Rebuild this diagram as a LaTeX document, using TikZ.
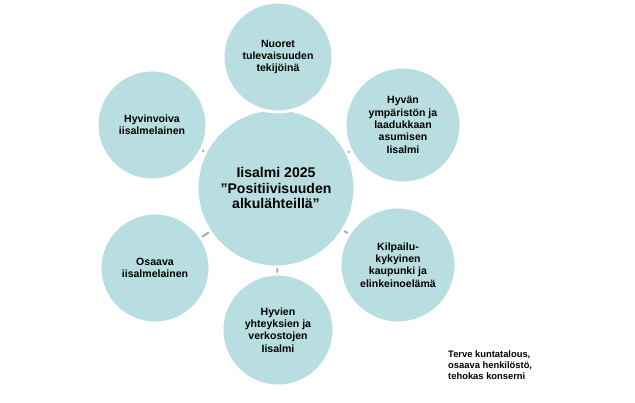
\documentclass[tikz,border=0pt]{standalone}
\usepackage{fontspec}
\setmainfont{Liberation Sans}
\definecolor{petal}{RGB}{185,222,225}
\definecolor{link}{RGB}{165,165,165}
\begin{document}
\begin{tikzpicture}[x=0.03cm, y=-0.03cm,
  petalnode/.style={circle, fill=petal, draw=white, line width=2.5pt, minimum size=110*0.03cm, inner sep=0pt, align=center, font=\bfseries\fontsize{9}{10.5}\selectfont},
  hubnode/.style={petalnode, minimum size=158*0.03cm, font=\bfseries\fontsize{12}{13.5}\selectfont}]
  \useasboundingbox (0,0) rectangle (635,403);
  % spokes first, circles on top
  \coordinate (c) at (276,188);
  \foreach \p in {(278,57),(403,125),(398,265),(278,330),(155,268),(152,125)}
    \draw[link, line width=1.5pt] (c) -- \p;
  \node[hubnode] (hub) at (c) {Iisalmi 2025\\”Positiivisuuden\\alkulähteillä”};
  \node[petalnode] (youth) at (278,57) {Nuoret\\tulevaisuuden\\tekijöinä};
  \node[petalnode, minimum size=116*0.03cm] (living) at (403,125) {Hyvän\\ympäristön ja\\laadukkaan\\asumisen\\Iisalmi};
  \node[petalnode, minimum size=116*0.03cm] (trade) at (398,265) {Kilpailu-\\kykyinen\\kaupunki ja\\elinkeinoelämä};
  \node[petalnode, minimum size=112*0.03cm] (network) at (278,330) {Hyvien\\yhteyksien ja\\verkostojen\\Iisalmi};
  \node[petalnode] (skilled) at (155,268) {Osaava\\iisalmelainen};
  \node[petalnode] (wellbeing) at (152,125) {Hyvinvoiva\\iisalmelainen};
  % footnote box
  \node[align=left, anchor=north west, inner sep=0pt, font=\bfseries\fontsize{8}{9.5}\selectfont] (economy) at (448,350) {Terve kuntatalous,\\osaava henkilöstö,\\tehokas konserni};
\end{tikzpicture}
\end{document}
